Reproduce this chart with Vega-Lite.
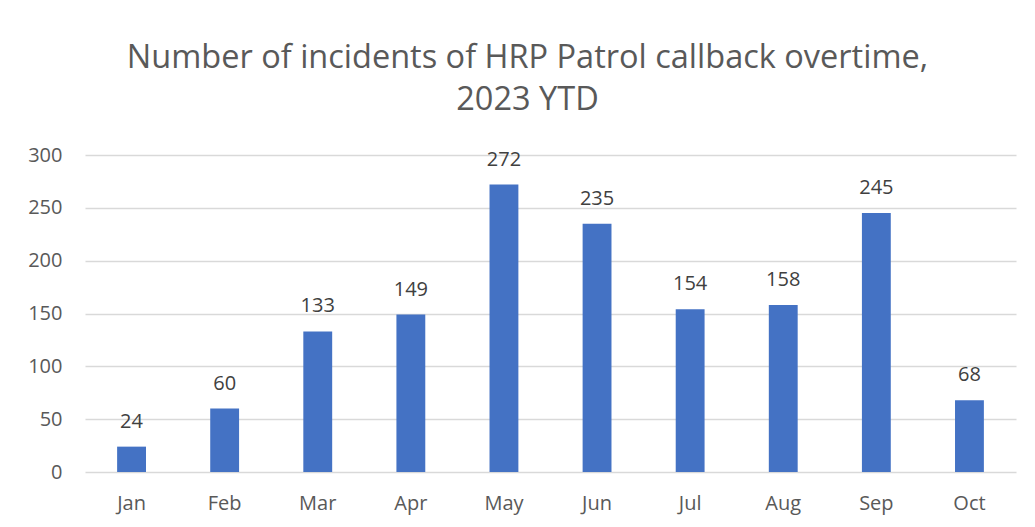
{
  "$schema": "https://vega.github.io/schema/vega-lite/v6.json",
  "width": 931,
  "height": 317,
  "autosize": {"type": "none"},
  "padding": {"left": 85, "top": 155, "right": 19, "bottom": 55},
  "background": "white",
  "title": {
    "text": ["Number of incidents of HRP Patrol callback overtime,", "2023 YTD"],
    "fontSize": 32.5,
    "font": "Open Sans",
    "fontWeight": "normal",
    "color": "#595959",
    "anchor": "middle",
    "frame": "group",
    "dx": -23,
    "offset": 29,
    "lineHeight": 42
  },
  "data": {
    "values": [
      {"month": "Jan", "count": 24},
      {"month": "Feb", "count": 60},
      {"month": "Mar", "count": 133},
      {"month": "Apr", "count": 149},
      {"month": "May", "count": 272},
      {"month": "Jun", "count": 235},
      {"month": "Jul", "count": 154},
      {"month": "Aug", "count": 158},
      {"month": "Sep", "count": 245},
      {"month": "Oct", "count": 68}
    ]
  },
  "encoding": {
    "x": {
      "field": "month",
      "type": "nominal",
      "sort": null,
      "scale": {"paddingInner": 0.69, "paddingOuter": 0.345},
      "axis": {
        "title": null,
        "labelAngle": 0,
        "ticks": false,
        "domain": false,
        "labelFont": "Open Sans",
        "labelFontSize": 20,
        "labelColor": "#595959",
        "labelPadding": 21
      }
    },
    "y": {
      "field": "count",
      "type": "quantitative",
      "scale": {"domain": [0, 300]},
      "axis": {
        "title": null,
        "values": [0, 50, 100, 150, 200, 250, 300],
        "ticks": false,
        "domain": false,
        "grid": true,
        "gridColor": "#d9d9d9",
        "gridWidth": 1.3,
        "labelFont": "Open Sans",
        "labelFontSize": 20,
        "labelColor": "#595959",
        "labelPadding": 23
      }
    }
  },
  "layer": [
    {"mark": {"type": "bar", "color": "#4472C4"}},
    {
      "mark": {"type": "text", "dy": -25, "font": "Open Sans", "fontSize": 20, "color": "#404040"},
      "encoding": {"text": {"field": "count", "type": "quantitative"}}
    }
  ],
  "config": {"view": {"stroke": null}}
}
